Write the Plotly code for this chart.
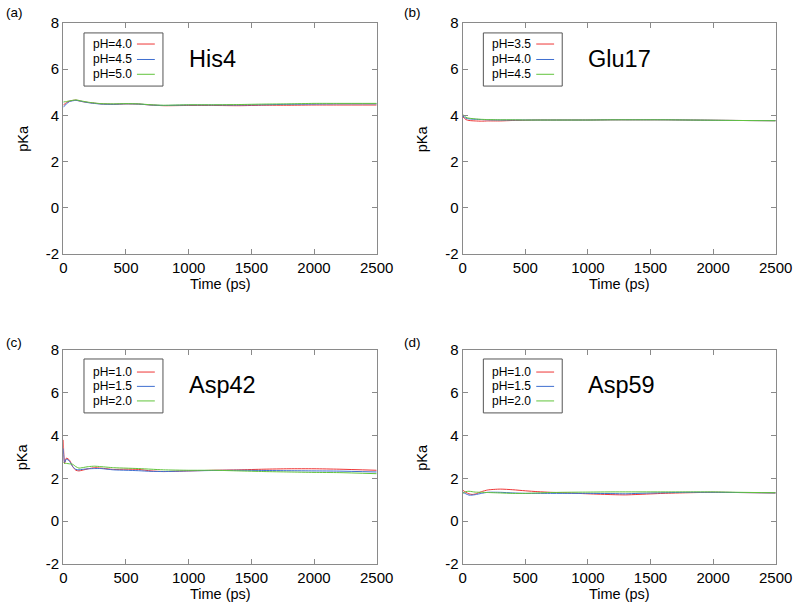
import plotly.graph_objects as go

# ---------------- data ----------------
t_his4 = [0, 25, 50, 100, 150, 200, 300, 400, 500, 600, 700, 800, 1000, 1200, 1400, 1600, 1800, 2000, 2200, 2500]
his4_ph40 = [4.45, 4.55, 4.62, 4.66, 4.60, 4.56, 4.50, 4.48, 4.50, 4.49, 4.45, 4.42, 4.43, 4.43, 4.42, 4.44, 4.44, 4.45, 4.45, 4.45]
his4_ph45 = [4.35, 4.50, 4.60, 4.65, 4.60, 4.55, 4.49, 4.48, 4.50, 4.49, 4.45, 4.43, 4.45, 4.45, 4.45, 4.46, 4.48, 4.49, 4.50, 4.50]
his4_ph50 = [4.58, 4.60, 4.63, 4.67, 4.62, 4.57, 4.51, 4.50, 4.51, 4.50, 4.46, 4.44, 4.46, 4.46, 4.47, 4.49, 4.50, 4.52, 4.52, 4.52]

t_glu17 = [0, 25, 50, 100, 150, 200, 300, 400, 500, 600, 700, 800, 1000, 1200, 1400, 1600, 1800, 2000, 2200, 2500]
glu17_ph35 = [3.95, 3.82, 3.78, 3.76, 3.75, 3.76, 3.76, 3.78, 3.79, 3.80, 3.80, 3.80, 3.80, 3.81, 3.81, 3.81, 3.80, 3.79, 3.78, 3.77]
glu17_ph40 = [3.98, 3.88, 3.85, 3.83, 3.82, 3.81, 3.80, 3.80, 3.80, 3.80, 3.80, 3.80, 3.80, 3.81, 3.81, 3.81, 3.80, 3.79, 3.78, 3.77]
glu17_ph45 = [4.05, 3.92, 3.88, 3.85, 3.83, 3.82, 3.81, 3.81, 3.80, 3.80, 3.80, 3.80, 3.80, 3.81, 3.81, 3.81, 3.80, 3.79, 3.78, 3.77]

t_asp42 = [0, 10, 25, 50, 75, 100, 125, 150, 200, 250, 300, 400, 500, 600, 700, 800, 1000, 1200, 1400, 1600, 1800, 2000, 2200, 2500]
asp42_ph10 = [3.8, 2.7, 2.95, 2.85, 2.55, 2.38, 2.35, 2.38, 2.45, 2.50, 2.48, 2.42, 2.43, 2.42, 2.35, 2.32, 2.35, 2.38, 2.40, 2.43, 2.45, 2.45, 2.43, 2.38]
asp42_ph15 = [3.4, 2.75, 2.90, 2.80, 2.55, 2.42, 2.40, 2.42, 2.45, 2.46, 2.46, 2.40, 2.38, 2.36, 2.33, 2.32, 2.35, 2.37, 2.38, 2.37, 2.36, 2.35, 2.34, 2.30]
asp42_ph20 = [2.75, 2.70, 2.70, 2.68, 2.66, 2.55, 2.48, 2.50, 2.55, 2.57, 2.55, 2.50, 2.48, 2.46, 2.43, 2.40, 2.38, 2.38, 2.35, 2.32, 2.30, 2.28, 2.27, 2.22]

t_asp59 = [0, 25, 50, 75, 100, 150, 200, 300, 400, 500, 600, 700, 800, 1000, 1200, 1300, 1400, 1600, 1800, 2000, 2200, 2500]
asp59_ph10 = [1.45, 1.35, 1.28, 1.25, 1.27, 1.38, 1.46, 1.50, 1.47, 1.42, 1.38, 1.35, 1.33, 1.28, 1.24, 1.23, 1.25, 1.30, 1.33, 1.35, 1.34, 1.32]
asp59_ph15 = [1.35, 1.28, 1.22, 1.22, 1.24, 1.30, 1.35, 1.35, 1.32, 1.30, 1.30, 1.30, 1.30, 1.30, 1.29, 1.28, 1.30, 1.33, 1.35, 1.35, 1.34, 1.32]
asp59_ph20 = [1.30, 1.38, 1.40, 1.38, 1.36, 1.35, 1.34, 1.32, 1.30, 1.30, 1.32, 1.34, 1.35, 1.36, 1.37, 1.37, 1.37, 1.37, 1.37, 1.37, 1.35, 1.33]

panel_tags = ["(a)", "(b)", "(c)", "(d)"]
residues = ["His4", "Glu17", "Asp42", "Asp59"]
legend_labels = [
    ["pH=4.0", "pH=4.5", "pH=5.0"],
    ["pH=3.5", "pH=4.0", "pH=4.5"],
    ["pH=1.0", "pH=1.5", "pH=2.0"],
    ["pH=1.0", "pH=1.5", "pH=2.0"],
]
x_ticks = [0, 500, 1000, 1500, 2000, 2500]
y_ticks = [-2, 0, 2, 4, 6, 8]
y_tick_labels = ["-2", "0", "2", "4", "6", "8"]

panels = [
    (t_his4, [his4_ph40, his4_ph45, his4_ph50]),
    (t_glu17, [glu17_ph35, glu17_ph40, glu17_ph45]),
    (t_asp42, [asp42_ph10, asp42_ph15, asp42_ph20]),
    (t_asp59, [asp59_ph10, asp59_ph15, asp59_ph20]),
]

# ---------------- style ----------------
colors = ["#ee3636", "#3f6fd0", "#62c43c"]
FONT = "Liberation Sans, Arial, Helvetica, sans-serif"
W, H = 800, 615
xdoms = [(63.3 / W, 376.7 / W), (462.7 / W, 775.7 / W)]
ydoms = [(1 - 254 / H, 1 - 23 / H), (1 - 564 / H, 1 - 350 / H)]

fig = go.Figure()
layout = dict(
    width=W, height=H,
    margin=dict(l=0, r=0, t=0, b=0, autoexpand=False),
    paper_bgcolor="white", plot_bgcolor="white",
    showlegend=False,
    font=dict(family=FONT, size=14, color="black"),
)

annotations = []
shapes = []
for i, (tt, series) in enumerate(panels):
    row, col = divmod(i, 2)
    n = "" if i == 0 else str(i + 1)
    xa, ya = "x" + n, "y" + n
    for s, c in zip(series, colors):
        fig.add_trace(go.Scatter(x=tt, y=s, mode="lines", xaxis=xa, yaxis=ya,
                                 line=dict(color=c, width=1.0, shape="spline", smoothing=0.6)))
    axcommon = dict(showline=True, linecolor="#8a8a8a", linewidth=1.2, mirror="ticks",
                    ticks="inside", ticklen=5, tickcolor="#8a8a8a", tickwidth=1,
                    showgrid=False, zeroline=False, automargin=False,
                    tickfont=dict(family=FONT, size=15, color="black"))
    layout["xaxis" + n] = dict(axcommon, domain=xdoms[col], range=[0, 2500],
                               tickvals=x_ticks, anchor=ya)
    layout["yaxis" + n] = dict(axcommon, domain=ydoms[row], range=[-2, 8],
                               tickvals=y_ticks, ticktext=y_tick_labels, anchor=xa)
    x0d, x1d = xdoms[col]
    y0d, y1d = ydoms[row]
    # axis titles
    annotations.append(dict(text="Time (ps)", xref="paper", yref="paper",
                            x=(x0d + x1d) / 2, y=y0d - 30 / H,
                            xanchor="center", yanchor="middle", showarrow=False,
                            font=dict(size=14.5, family=FONT)))
    annotations.append(dict(text="pKa", xref="paper", yref="paper",
                            x=x0d - 41 / W, y=(y0d + y1d) / 2, textangle=-90,
                            xanchor="center", yanchor="middle", showarrow=False,
                            font=dict(size=14.5, family=FONT)))
    # panel tag
    annotations.append(dict(text=panel_tags[i], xref="paper", yref="paper",
                            x=(4 if col == 0 else 402) / W, y=1 - (13 if row == 0 else 342) / H,
                            xanchor="left", yanchor="middle", showarrow=False,
                            font=dict(size=13.5, family=FONT)))
    # residue title
    annotations.append(dict(text=residues[i], xref=xa + " domain", yref=ya + " domain",
                            x=0.395, y=0.845 if row == 0 else 0.835,
                            xanchor="left", yanchor="middle", showarrow=False,
                            font=dict(size=23.5, family=FONT)))
    # legend box
    if row == 0:
        box = (0.957, 0.727)
        rows_y = [0.909, 0.842, 0.778]
    else:
        box = (0.958, 0.706)
        rows_y = [0.897, 0.830, 0.762]
    shapes.append(dict(type="rect", xref=xa + " domain", yref=ya + " domain",
                       x0=0.066, x1=0.318, y0=box[1], y1=box[0],
                       line=dict(color="#555555", width=1), fillcolor="white", layer="below"))
    for lab, c, yy in zip(legend_labels[i], colors, rows_y):
        annotations.append(dict(text=lab, xref=xa + " domain", yref=ya + " domain",
                                x=0.088, y=yy, xanchor="left", yanchor="middle",
                                showarrow=False, font=dict(size=12, family=FONT)))
        shapes.append(dict(type="line", xref=xa + " domain", yref=ya + " domain",
                           x0=0.235, x1=0.292, y0=yy, y1=yy,
                           line=dict(color=c, width=1.0)))

layout["annotations"] = annotations
layout["shapes"] = shapes
fig.update_layout(**layout)
fig.write_html("out.html", config={"displayModeBar": False},
               post_script="document.body.style.margin='0px';document.body.style.overflow='hidden';")
